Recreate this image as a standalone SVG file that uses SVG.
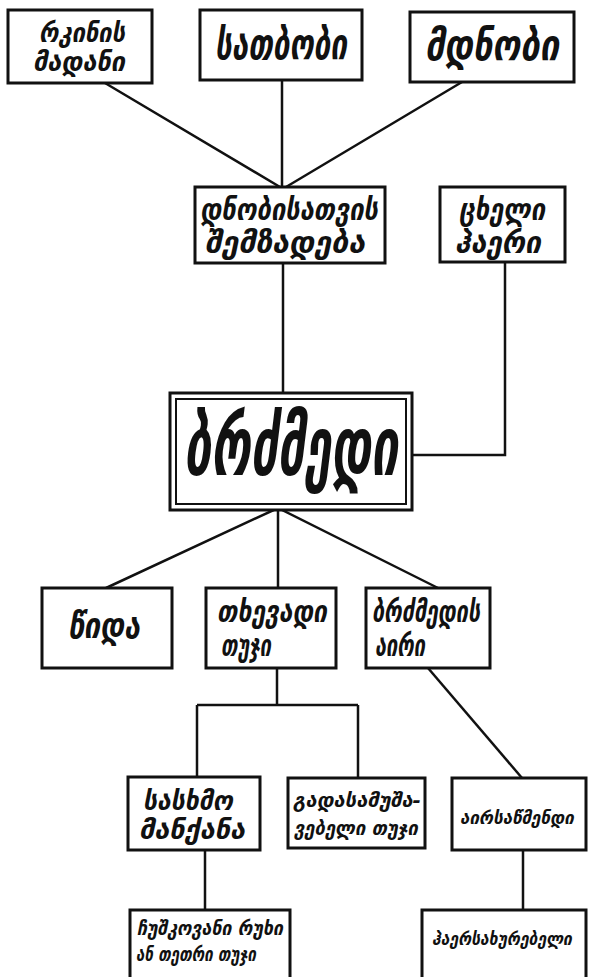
<svg xmlns="http://www.w3.org/2000/svg" width="589" height="977" viewBox="0 0 589 977">
<style>
.box{fill:#fff;stroke:#111;stroke-width:3}
.ln{fill:none;stroke:#111;stroke-width:2.5}
text{font-family:"DejaVu Sans",sans-serif;font-weight:bold;font-style:italic;fill:#111;text-anchor:middle}
.m{font-size:30px}
.s{font-size:26px}
.xs{font-size:20px}
.c{font-family:"DejaVu Sans Condensed","DejaVu Sans",sans-serif;font-size:18px}
</style>
<rect width="589" height="977" fill="#fff"/>
<g id="connectors">
<path class="ln" d="M105 83 L280 187 M282 80 L282 187 M462 82 L286 187"/>
<path class="ln" d="M283 263 L283 393"/>
<path class="ln" d="M505 262 L505 455 L412 455"/>
<path class="ln" d="M278 508 L106 588 M278 508 L278 588 M278 508 L438 588"/>
<path class="ln" d="M277 668 L277 705 M197 705 L358 705 M197 705 L197 777 M358 705 L358 778"/>
<path class="ln" d="M428 668 L522 778"/>
<path class="ln" d="M205 850 L205 910 M523 850 L523 910"/>
</g>
<g id="n1"><rect class="box" x="8" y="10" width="144" height="73"/>
<text x="82" y="42" style="font-size:26px" textLength="86" lengthAdjust="spacingAndGlyphs">რკინის</text>
<text x="79" y="71" style="font-size:26px" textLength="92" lengthAdjust="spacingAndGlyphs">მადანი</text></g>
<g id="n2"><rect class="box" x="200" y="10" width="162" height="70"/>
<text x="281" y="59" style="font-size:42px" textLength="132" lengthAdjust="spacingAndGlyphs">სათბობი</text></g>
<g id="n3"><rect class="box" x="410" y="12" width="164" height="70"/>
<text x="492" y="60" style="font-size:42px" textLength="134" lengthAdjust="spacingAndGlyphs">მდნობი</text></g>
<g id="n4"><rect class="box" x="195" y="187" width="190" height="76"/>
<text class="m" x="289" y="220" textLength="178" lengthAdjust="spacingAndGlyphs">დნობისათვის</text>
<text class="m" x="285" y="253" textLength="160" lengthAdjust="spacingAndGlyphs">შემზადება</text></g>
<g id="n5"><rect class="box" x="440" y="187" width="125" height="75"/>
<text class="m" x="502" y="220" textLength="86" lengthAdjust="spacingAndGlyphs">ცხელი</text>
<text class="m" x="498" y="253" textLength="86" lengthAdjust="spacingAndGlyphs">ჰაერი</text></g>
<g id="n6"><rect class="box" x="170" y="393" width="242" height="117"/>
<rect class="box" x="176" y="399" width="230" height="105" style="stroke-width:2"/>
<text x="291" y="475" style="font-size:82px" textLength="214" lengthAdjust="spacingAndGlyphs">ბრძმედი</text></g>
<g id="n7"><rect class="box" x="42" y="588" width="130" height="80"/>
<text x="104" y="638" style="font-size:36px" textLength="72" lengthAdjust="spacingAndGlyphs">წიდა</text></g>
<g id="n8"><rect class="box" x="206" y="588" width="130" height="80"/>
<text class="m" x="272" y="622" textLength="110" lengthAdjust="spacingAndGlyphs">თხევადი</text>
<text class="m" x="246" y="656" textLength="50" lengthAdjust="spacingAndGlyphs">თუჯი</text></g>
<g id="n9"><rect class="box" x="366" y="588" width="124" height="80"/>
<text class="m" x="426" y="622" textLength="108" lengthAdjust="spacingAndGlyphs">ბრძმედის</text>
<text class="m" x="400" y="656" textLength="50" lengthAdjust="spacingAndGlyphs">აირი</text></g>
<g id="n10"><rect class="box" x="128" y="777" width="132" height="73"/>
<text class="s" x="188" y="810" textLength="90" lengthAdjust="spacingAndGlyphs">სასხმო</text>
<text class="s" x="192" y="839" textLength="106" lengthAdjust="spacingAndGlyphs">მანქანა</text></g>
<g id="n11"><rect class="box" x="288" y="778" width="137" height="70"/>
<text class="xs" x="357" y="807" textLength="128" lengthAdjust="spacingAndGlyphs">გადასამუშა-</text>
<text class="xs" x="356" y="835" textLength="124" lengthAdjust="spacingAndGlyphs">ვებელი თუჯი</text></g>
<g id="n12"><rect class="box" x="452" y="778" width="134" height="72"/>
<text class="c" x="517" y="824" textLength="114" lengthAdjust="spacingAndGlyphs">აირსაწმენდი</text></g>
<g id="n13"><rect class="box" x="130" y="910" width="160" height="75"/>
<text class="xs" x="210" y="935" textLength="146" lengthAdjust="spacingAndGlyphs">ჩუშკოვანი რუხი</text>
<text class="xs" x="196" y="961" textLength="120" lengthAdjust="spacingAndGlyphs">ან თეთრი თუჯი</text></g>
<g id="n14"><rect class="box" x="422" y="910" width="164" height="75"/>
<text class="c" x="502" y="945" textLength="140" lengthAdjust="spacingAndGlyphs">ჰაერსახურებელი</text></g>
</svg>
